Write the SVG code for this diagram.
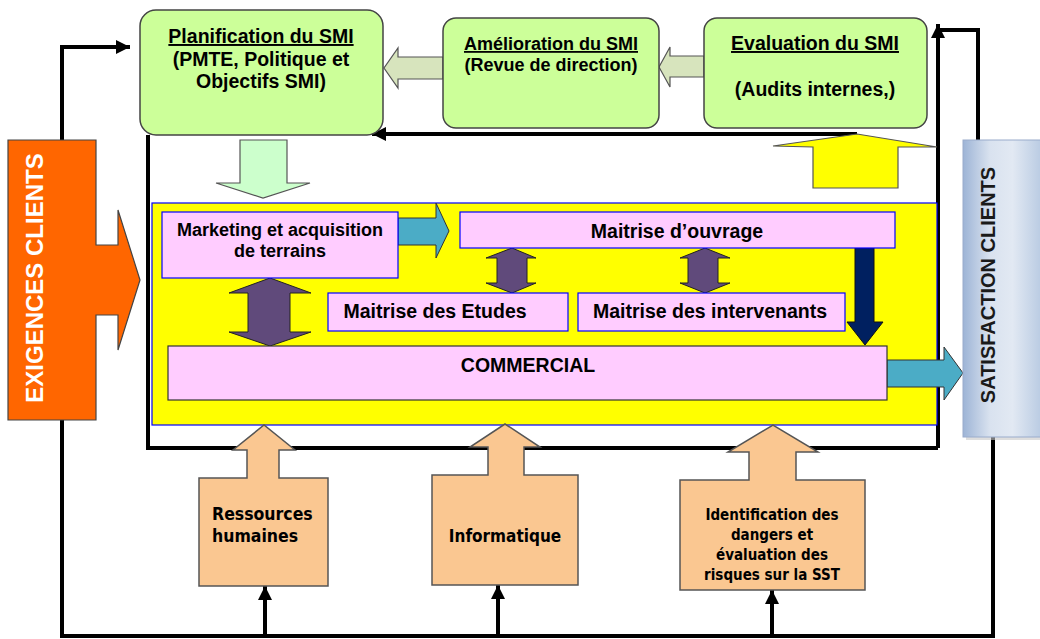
<svg xmlns="http://www.w3.org/2000/svg" width="1040" height="639" viewBox="0 0 1040 639">
  <style>
    .t { font-family: "Liberation Sans", Arial, sans-serif; font-weight: bold; fill: #000; text-anchor: middle; }
    .tc { font-family: "DejaVu Sans Condensed", "DejaVu Sans", sans-serif; font-weight: bold; fill: #000; }
    .wire { fill: none; stroke: #000; stroke-width: 4; }
    .green { fill: #ccff99; stroke: #444; stroke-width: 1.5; }
    .olive { fill: #d7e4bd; stroke: #555; stroke-width: 1.2; }
    .pink { fill: #ffccff; stroke: #0000ff; stroke-width: 1.2; }
    .peach { fill: #fac791; stroke: #555; stroke-width: 1.5; }
    .purple { fill: #604a7b; stroke: #222; stroke-width: 1; }
    .teal { fill: #4bacc6; stroke: #333; stroke-width: 1; }
  </style>
  <defs>
    <marker id="head" viewBox="0 0 10 10" refX="10" refY="5" markerWidth="14" markerHeight="14" markerUnits="userSpaceOnUse" orient="auto">
      <path d="M0,0 L10,5 L0,10 Z" fill="#000"/>
    </marker>
    <linearGradient id="satGrad" x1="0" y1="0" x2="1" y2="0">
      <stop offset="0" stop-color="#9db4d6"/>
      <stop offset="0.3" stop-color="#d9e2ef"/>
      <stop offset="0.55" stop-color="#e2e9f3"/>
      <stop offset="1" stop-color="#a9bfdc"/>
    </linearGradient>
  </defs>

  <rect width="1040" height="639" fill="#ffffff"/>

  <!-- feedback loops and frame -->
  <g id="connectors">
    <polyline class="wire" points="148,135 148,448 938,448"/>
    <line class="wire" x1="938" y1="448" x2="938" y2="24" marker-end="url(#head)"/>
    <polyline class="wire" points="978,140 978,30 938,30"/>
    <line class="wire" x1="857" y1="134" x2="372" y2="134" marker-end="url(#head)"/>
    <polyline class="wire" points="62,140 62,47 130,47" marker-end="url(#head)"/>
    <polyline class="wire" points="62,420 62,636 993,636 993,437"/>
    <line class="wire" x1="265" y1="636" x2="265" y2="586" marker-end="url(#head)"/>
    <line class="wire" x1="498" y1="636" x2="498" y2="585" marker-end="url(#head)"/>
    <line class="wire" x1="772" y1="636" x2="772" y2="590" marker-end="url(#head)"/>
  </g>

  <!-- process area -->
  <g id="process-area">
    <rect x="152" y="203" width="785" height="222" fill="#ffff00" stroke="#0000ff" stroke-width="1.2"/>
  </g>

  <!-- block arrows -->
  <g id="block-arrows">
    <path class="olive" d="M443,57 L398,57 L398,48 L384,68 L398,88 L398,79 L443,79 Z"/>
    <path class="olive" d="M704,56 L670,56 L670,47 L659,67 L670,87 L670,77 L704,77 Z"/>
    <path d="M240,140 L287,140 L287,183 L310,183 L263,198 L216,183 L240,183 Z" fill="#ccffcc" stroke="#555" stroke-width="1.2"/>
    <path d="M813,188 L813,147 L773,146 L857,134 L937,147 L898,147 L898,188 Z" fill="#ffff00" stroke="#555" stroke-width="1.2"/>
    <path class="teal" d="M398,218 L436,218 L436,203 L449,231 L436,258 L436,245 L398,245 Z"/>
    <path class="teal" d="M887,360 L944,360 L944,347 L963,373 L944,400 L944,387 L887,387 Z"/>
    <path class="purple" d="M270,278 L311,293 L290,293 L290,332 L311,332 L270,346 L229,332 L248,332 L248,293 L229,293 Z"/>
    <path class="purple" d="M512,248 L536,258 L527,258 L527,283 L536,283 L512,293 L486,283 L497,283 L497,258 L486,258 Z"/>
    <path class="purple" d="M705,248 L730,258 L718,258 L718,283 L730,283 L705,293 L680,283 L688,283 L688,258 L680,258 Z"/>
    <path d="M855,248 L874,248 L874,322 L883,322 L865,345 L847,322 L855,322 Z" fill="#002060" stroke="#111" stroke-width="1"/>
  </g>

  <!-- SMI cycle -->
  <g id="planification">
    <rect class="green" x="140" y="10" width="243" height="125" rx="16"/>
    <text class="t" x="261" y="43" font-size="19.5" text-decoration="underline">Planification du SMI</text>
    <text class="t" x="261" y="66" font-size="19.5">(PMTE, Politique et</text>
    <text class="t" x="261" y="88" font-size="19.5">Objectifs SMI)</text>
  </g>
  <g id="amelioration">
    <rect class="green" x="443" y="18" width="216" height="110" rx="13"/>
    <text class="t" x="551" y="50" font-size="18" text-decoration="underline">Amélioration du SMI</text>
    <text class="t" x="551" y="71" font-size="18">(Revue de direction)</text>
  </g>
  <g id="evaluation">
    <rect class="green" x="704" y="18" width="223" height="110" rx="13"/>
    <text class="t" x="815" y="50" font-size="19.5" text-decoration="underline">Evaluation du SMI</text>
    <text class="t" x="815" y="96" font-size="19.5">(Audits internes,)</text>
  </g>

  <!-- customer requirements / satisfaction -->
  <g id="exigences-clients">
    <path d="M8,140 L96,140 L96,245 L118,245 L118,210 L140,280 L118,350 L118,315 L96,315 L96,420 L8,420 Z" fill="#ff6600" stroke="#444" stroke-width="1.2"/>
    <text class="t" transform="translate(43,278) rotate(-90)" font-size="24" fill="#ffffff" style="fill:#ffffff">EXIGENCES CLIENTS</text>
  </g>
  <g id="satisfaction-clients">
    <rect x="966" y="143" width="90" height="297" fill="#c8c8c8" opacity="0.6"/>
    <rect x="963" y="140" width="90" height="297" fill="url(#satGrad)" stroke="#9aaccc" stroke-width="1"/>
    <text class="t" transform="translate(995,285) rotate(-90)" font-size="20" style="fill:#1a1a1a">SATISFACTION CLIENTS</text>
  </g>

  <!-- realisation processes -->
  <g id="marketing">
    <rect class="pink" x="162" y="212" width="236" height="66"/>
    <text class="t" x="280" y="236" font-size="18">Marketing et acquisition</text>
    <text class="t" x="280" y="257" font-size="18">de terrains</text>
  </g>
  <g id="maitrise-ouvrage">
    <rect class="pink" x="460" y="212" width="435" height="36"/>
    <text class="t" x="677" y="238" font-size="19.5">Maitrise d’ouvrage</text>
  </g>
  <g id="maitrise-etudes">
    <rect class="pink" x="328" y="293" width="240" height="38"/>
    <text class="t" x="435" y="318" font-size="19.5">Maitrise des Etudes</text>
  </g>
  <g id="maitrise-intervenants">
    <rect class="pink" x="578" y="293" width="267" height="38"/>
    <text class="t" x="710" y="318" font-size="19.5">Maitrise des intervenants</text>
  </g>
  <g id="commercial">
    <rect x="168" y="346" width="719" height="54" fill="#ffccff" stroke="#333" stroke-width="1.2"/>
    <text class="t" x="528" y="372" font-size="19.5">COMMERCIAL</text>
  </g>

  <!-- support processes -->
  <g id="ressources-humaines">
    <path class="peach" d="M199,478 L247,478 L247,450 L233,450 L264,425 L295,450 L279,450 L279,478 L328,478 L328,586 L199,586 Z"/>
    <text class="tc" x="212" y="520" font-size="17.5">Ressources</text>
    <text class="tc" x="212" y="542" font-size="17.5">humaines</text>
  </g>
  <g id="informatique">
    <path class="peach" d="M432,475 L488,475 L488,447 L470,447 L505,424 L540,447 L524,447 L524,475 L578,475 L578,585 L432,585 Z"/>
    <text class="tc" x="505" y="542" font-size="17" text-anchor="middle">Informatique</text>
  </g>
  <g id="identification-dangers">
    <path class="peach" d="M680,480 L749,480 L749,452 L728,452 L773,425 L818,452 L796,452 L796,480 L865,480 L865,590 L680,590 Z"/>
    <text class="tc" x="772" y="520" font-size="15" text-anchor="middle">Identification des</text>
    <text class="tc" x="772" y="540" font-size="15" text-anchor="middle">dangers et</text>
    <text class="tc" x="772" y="560" font-size="15" text-anchor="middle">évaluation des</text>
    <text class="tc" x="772" y="580" font-size="15" text-anchor="middle">risques sur la SST</text>
  </g>
</svg>
